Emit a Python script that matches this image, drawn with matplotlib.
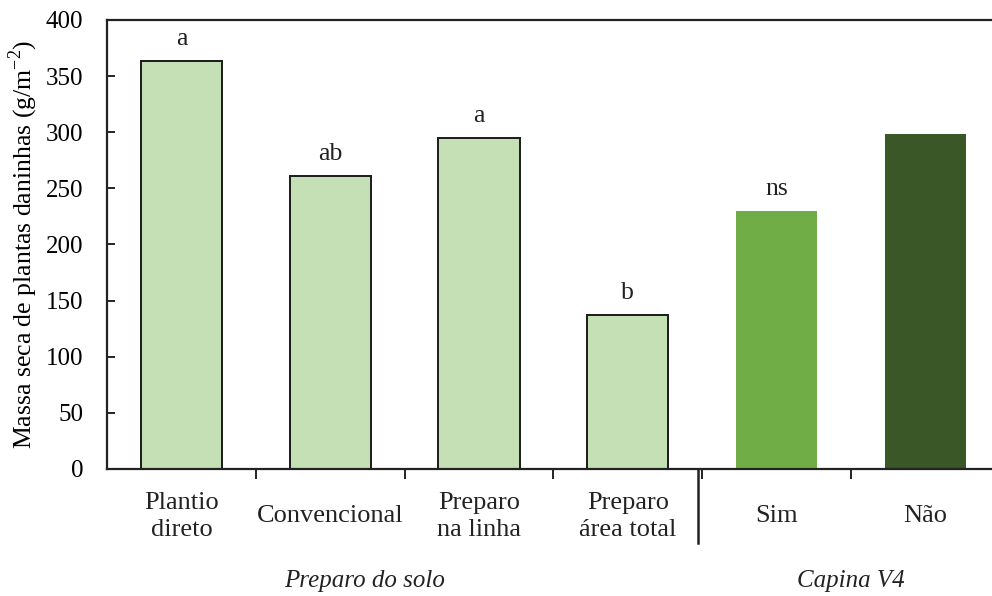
import matplotlib
matplotlib.use("Agg")
import matplotlib.pyplot as plt
from matplotlib.transforms import blended_transform_factory

plt.rcParams["font.family"] = ["Liberation Serif", "DejaVu Serif"]
plt.rcParams["mathtext.fontset"] = "custom"
plt.rcParams["mathtext.rm"] = "Liberation Serif"

# dados
categorias = ["Plantio\ndireto", "Convencional", "Preparo\nna linha",
              "Preparo\nárea total", "Sim", "Não"]
massa_seca = [363.5, 261, 295, 137, 230, 298.5]
letras = ["a", "ab", "a", "b", "ns", ""]
cores = ["#C5E0B4", "#C5E0B4", "#C5E0B4", "#C5E0B4", "#70AD47", "#3A5728"]
bordas = ["#1a1a1a", "#1a1a1a", "#1a1a1a", "#1a1a1a", "none", "none"]
grupos = ["Preparo do solo", "Capina V4"]
grupo_x = [1.23, 4.5]

fig = plt.figure(figsize=(9.92, 5.96), dpi=100)
ax = fig.add_axes([0.1079, 0.2131, 0.9, 0.7534])

x = list(range(len(categorias)))
ax.bar(x, massa_seca, width=0.545, color=cores, edgecolor=bordas, linewidth=1.4)

for xi, v, l in zip(x, massa_seca, letras):
    if l:
        ax.annotate(l, (xi, v), xytext=(0, 8), textcoords="offset points",
                    ha="center", va="bottom", fontsize=18.5, color="#222222")

ax.set_xlim(-0.5, 5.5)
ax.set_ylim(0, 400)
ax.set_yticks(range(0, 401, 50))
ax.tick_params(axis="y", direction="in", length=6, width=1.2, labelsize=18, pad=17)

ax.set_xticks(x, categorias)
ax.set_xticks([0.5, 1.5, 2.5, 3.5, 4.5], minor=True)
ax.tick_params(axis="x", which="major", length=0, pad=34, labelsize=19)
ax.tick_params(axis="x", which="minor", direction="out", length=7, width=1.2)
for lbl in ax.get_xticklabels():
    lbl.set_va("center")
    lbl.set_multialignment("center")
    lbl.set_linespacing(1.3)
    lbl.set_color("#222222")

for s in ax.spines.values():
    s.set_linewidth(1.6)
    s.set_color("#222222")

ax.set_ylabel(r"Massa seca de plantas daninhas (g/m$^{\mathregular{-2}}$)",
              fontsize=18.5, labelpad=4)

# separador entre grupos
trans = blended_transform_factory(ax.transData, ax.transAxes)
ax.plot([3.47, 3.47], [0, -0.165], transform=trans, color="#222222",
        linewidth=1.8, clip_on=False)

for g, gx in zip(grupos, grupo_x):
    ax.text(gx, -0.25, g, transform=trans, ha="center", va="center",
            fontsize=18, style="italic", color="#222222")

fig.savefig("out.png", dpi=100)
